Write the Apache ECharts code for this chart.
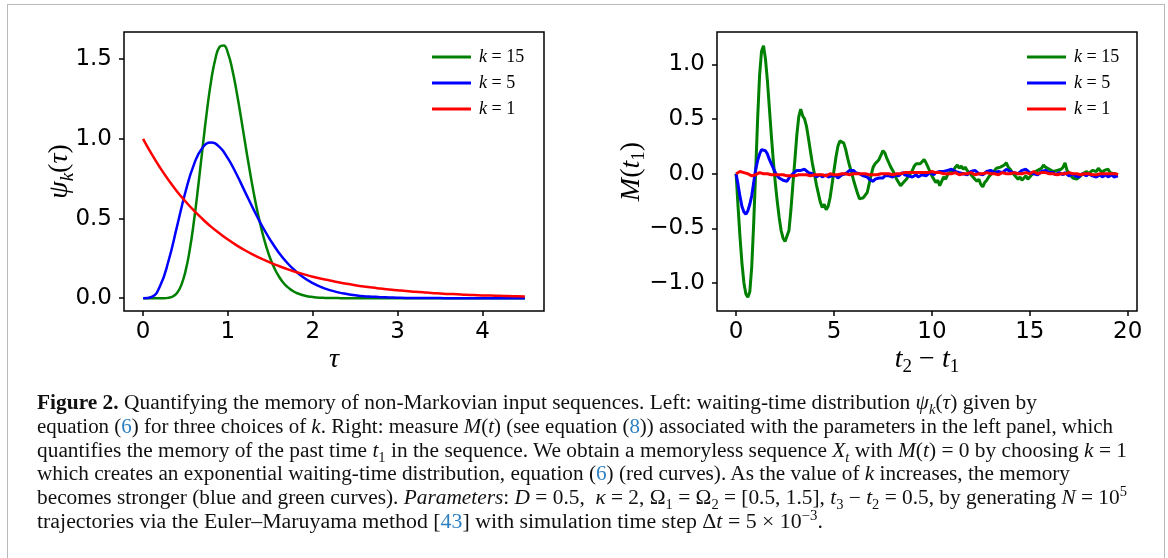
<!DOCTYPE html>
<html><head><meta charset="utf-8">
<script src="https://cdn.jsdelivr.net/npm/echarts@6/dist/echarts.min.js"></script>
<style>
html,body{margin:0;padding:0;background:#fff;}
#wrap{position:relative;width:1168px;height:558px;overflow:hidden;background:#fff;}
#chart{position:absolute;left:0;top:0;width:1168px;height:385px;}
#frame{position:absolute;left:7px;top:4px;width:1158px;height:620px;border:1px solid #b9b9b9;box-sizing:border-box;pointer-events:none;}
#caption{position:absolute;left:37px;top:391px;font-family:'Liberation Serif',serif;font-size:20px;line-height:23.8px;color:#111;}
#caption .ln{white-space:nowrap;transform-origin:0 50%;width:max-content;}
#caption sub,#caption sup{font-size:68%;line-height:0;}
#caption .ref{color:#2f80c0;}
</style></head>
<body>
<div id="wrap">
<div id="chart"></div>
<div id="frame"></div>
<div id="caption">
<div class="ln" data-end="1037"><b>Figure 2.</b> Quantifying the memory of non-Markovian input sequences. Left: waiting-time distribution <i>ψ<sub>k</sub></i>(<i>τ</i>) given by</div>
<div class="ln" data-end="1113">equation (<span class="ref">6</span>) for three choices of <i>k</i>. Right: measure <i>M</i>(<i>t</i>) (see equation (<span class="ref">8</span>)) associated with the parameters in the left panel, which</div>
<div class="ln" data-end="1127">quantifies the memory of the past time <i>t</i><sub>1</sub> in the sequence. We obtain a memoryless sequence <i>X<sub>t</sub></i> with <i>M</i>(<i>t</i>) = 0 by choosing <i>k</i> = 1</div>
<div class="ln" data-end="1070">which creates an exponential waiting-time distribution, equation (<span class="ref">6</span>) (red curves). As the value of <i>k</i> increases, the memory</div>
<div class="ln" data-end="1127">becomes stronger (blue and green curves). <i>Parameters</i>: <i>D</i> = 0.5, &nbsp;<i>κ</i> = 2, Ω<sub>1</sub> = Ω<sub>2</sub> = [0.5, 1.5], <i>t</i><sub>3</sub> − <i>t</i><sub>2</sub> = 0.5, by generating <i>N</i> = 10<sup>5</sup></div>
<div class="ln" data-end="823">trajectories via the Euler–Maruyama method [<span class="ref">43</span>] with simulation time step Δ<i>t</i> = 5 × 10<sup>−3</sup>.</div>
</div>
</div>
<script>
// ---------- data ----------
const seriesNames = ['k=15', 'k=5', 'k=1'];
const seriesColors = ['#008000', '#0000ff', '#ff0000'];

// left panel: waiting-time distribution psi_k(tau), tau from 0 to 4.5
const tauTicks = [0, 1, 2, 3, 4];
const psiTicks = [0, 0.5, 1.0, 1.5];
const psi15Step = 0.05;   // k = 15 read every 0.05
const psi15 = [0, 0, 0, 0, 0.000, 0.000, 0.003, 0.011, 0.033, 0.082,
  0.170, 0.304, 0.486, 0.704, 0.938, 1.164, 1.357, 1.498, 1.576, 1.586,
  1.537, 1.437, 1.302, 1.146, 0.982, 0.822, 0.672, 0.538, 0.423, 0.327,
  0.248, 0.186, 0.137, 0.099, 0.071, 0.051, 0.035, 0.025, 0.017, 0.011,
  0.008, 0.005, 0.003, 0.002, 0.002, 0.001, 0.001, 0.000, 0.000, 0,
  0, 0, 0, 0, 0, 0, 0, 0, 0, 0,
  0, 0, 0, 0, 0, 0, 0, 0, 0, 0,
  0, 0, 0, 0, 0, 0, 0, 0, 0, 0,
  0, 0, 0, 0, 0, 0, 0, 0, 0, 0,
  0];
const psiStep = 0.1;      // k = 5 and k = 1 read every 0.1
const psi5 = [0, 0.008, 0.077, 0.235, 0.451, 0.668, 0.840, 0.944, 0.977, 0.949,
  0.877, 0.779, 0.669, 0.559, 0.456, 0.365, 0.286, 0.221, 0.169, 0.127,
  0.095, 0.070, 0.051, 0.037, 0.027, 0.019, 0.013, 0.010, 0.007, 0.005,
  0.003, 0.002, 0.002, 0.001, 0.001, 0.001, 0, 0, 0, 0,
  0, 0, 0, 0, 0, 0];
const psi1 = [1.000, 0.905, 0.819, 0.741, 0.670, 0.607, 0.549, 0.497, 0.449, 0.407,
  0.368, 0.333, 0.301, 0.273, 0.247, 0.223, 0.202, 0.183, 0.165, 0.150,
  0.135, 0.122, 0.111, 0.100, 0.091, 0.082, 0.074, 0.067, 0.061, 0.055,
  0.050, 0.045, 0.041, 0.037, 0.033, 0.030, 0.027, 0.025, 0.022, 0.020,
  0.018, 0.017, 0.015, 0.014, 0.012, 0.011];

// right panel: memory measure M, sampled every 0.1 in t2 - t1 (0 .. 19.5)
const tStep = 0.1;
const tTicks = [0, 5, 10, 15, 20];
const mTicks = [-1.0, -0.5, 0, 0.5, 1.0];
const m15 = [
  0, -0.30, -0.58, -0.82, -1.00, -1.10, -1.13, -1.08, -0.85, -0.45,
  0.02, 0.50, 0.90, 1.12, 1.17, 1.05, 0.85, 0.60, 0.35, 0.12,
  -0.08, -0.25, -0.40, -0.52, -0.59, -0.62, -0.61, -0.52, -0.33, -0.10,
  0.12, 0.35, 0.52, 0.59, 0.53, 0.50, 0.43, 0.32, 0.20, 0.09,
  0.00, -0.10, -0.18, -0.26, -0.31, -0.28, -0.33, -0.30, -0.22, -0.10,
  0.03, 0.15, 0.25, 0.30, 0.31, 0.28, 0.22, 0.14, 0.07, 0.01,
  -0.06, -0.12, -0.18, -0.23, -0.24, -0.22, -0.23, -0.17, -0.09, -0.01,
  0.06, 0.09, 0.11, 0.13, 0.17, 0.21, 0.19, 0.14, 0.10, 0.06,
  0.03, -0.01, -0.05, -0.08, -0.11, -0.09, -0.07, -0.05, -0.02, 0.00,
  0.03, 0.07, 0.09, 0.10, 0.09, 0.11, 0.13, 0.10, 0.06, 0.02,
  -0.02, -0.05, -0.08, -0.06, -0.11, -0.07, -0.03, -0.05, -0.01, 0.01,
  0.00, 0.03, 0.06, 0.08, 0.05, 0.07, 0.04, 0.06, 0.03, 0.01,
  -0.01, -0.02, -0.05, -0.07, -0.05, -0.10, -0.12, -0.08, -0.06, -0.03,
  -0.01, 0.01, 0.03, 0.05, 0.04, 0.06, 0.05, 0.08, 0.10, 0.06,
  0.04, 0.01, -0.01, -0.03, -0.05, -0.03, -0.06, -0.04, -0.02, -0.05,
  -0.03, -0.01, 0.01, 0.00, 0.03, 0.02, 0.05, 0.08, 0.06, 0.07,
  0.04, 0.05, 0.02, 0.01, 0.03, 0.02, 0.04, 0.06, 0.10, 0.03,
  0.01, -0.02, -0.04, -0.03, -0.05, -0.04, -0.02, 0.00, 0.01, 0.02,
  0.00, 0.01, 0.03, 0.04, 0.02, 0.05, 0.03, 0.01, 0.03, 0.02,
  0.04, 0.01, 0.02, 0.00, 0.01, -0.01];
const m5 = [
  0, -0.10, -0.21, -0.30, -0.35, -0.37, -0.34, -0.28, -0.20, -0.08,
  0.04, 0.12, 0.18, 0.22, 0.23, 0.21, 0.18, 0.13, 0.09, 0.05,
  0.01, -0.02, -0.04, -0.05, -0.06, -0.05, -0.07, -0.04, -0.02, 0.00,
  0.01, 0.03, 0.02, 0.03, 0.02, 0.04, 0.03, 0.01, 0.02, 0.00,
  -0.01, -0.03, -0.02, -0.01, -0.03, -0.02, -0.01, -0.03, -0.04, -0.02,
  -0.03, -0.02, -0.04, -0.03, -0.01, -0.02, 0.00, 0.01, 0.03, 0.02,
  0.03, 0.01, 0.02, 0.00, -0.01, -0.02, -0.01, -0.03, -0.05, -0.06,
  -0.07, -0.05, -0.06, -0.04, -0.03, -0.04, -0.02, -0.03, -0.02, -0.01,
  -0.03, -0.01, 0.00, -0.02, -0.01, 0.01, -0.01, 0.00, -0.02, -0.01,
  -0.03, -0.02, -0.01, -0.03, -0.02, -0.01, 0.00, -0.02, -0.01, 0.01,
  0.00, -0.01, 0.01, 0.00, 0.02, 0.01, 0.02, 0.01, 0.03, 0.02,
  0.04, 0.03, 0.02, 0.03, 0.01, 0.02, 0.00, 0.01, -0.01, 0.00,
  0.02, 0.01, 0.03, 0.02, 0.00, 0.01, -0.01, 0.00, 0.02, 0.01,
  0.03, 0.02, 0.01, 0.00, 0.02, 0.03, 0.01, 0.02, 0.04, 0.03,
  0.02, 0.03, 0.01, 0.02, 0.00, 0.01, 0.03, 0.02, 0.04, 0.03,
  0.01, 0.02, 0.00, 0.01, -0.01, 0.00, 0.02, 0.01, 0.03, 0.02,
  0.01, 0.00, 0.01, -0.01, 0.00, 0.01, 0.00, -0.01, 0.01, 0.00,
  -0.02, -0.01, 0.00, -0.02, -0.01, -0.03, -0.02, 0.00, -0.01, -0.02,
  0.00, -0.01, -0.02, -0.01, -0.03, -0.02, -0.01, -0.03, -0.02, -0.01,
  -0.03, -0.02, -0.01, -0.03, -0.02, -0.02];
const m1 = [
  0.00, 0.01, 0.02, 0.02, 0.01, 0.01, 0.00, -0.01, -0.02, -0.01,
  -0.01, 0.00, 0.01, 0.01, 0.00, 0.01, 0.00, -0.01, -0.01, -0.02,
  -0.01, -0.02, -0.01, -0.02, -0.01, -0.02, -0.02, -0.01, -0.02, -0.01,
  -0.02, -0.01, -0.01, -0.02, -0.01, -0.02, -0.01, -0.01, -0.02, -0.01,
  -0.01, -0.02, -0.01, 0.00, -0.01, -0.01, -0.02, -0.01, 0.00, -0.01,
  -0.01, 0.00, -0.01, -0.01, 0.00, -0.01, 0.00, 0.00, -0.01, 0.00,
  0.00, -0.01, 0.00, 0.01, 0.00, -0.01, 0.00, 0.00, -0.01, 0.00,
  -0.01, 0.00, -0.01, 0.00, 0.00, -0.01, 0.00, 0.01, 0.00, 0.00,
  -0.01, 0.00, 0.00, 0.01, 0.00, 0.00, 0.01, 0.00, 0.01, 0.00,
  0.01, 0.00, 0.01, 0.02, 0.01, 0.02, 0.01, 0.02, 0.01, 0.01,
  0.02, 0.01, 0.01, 0.00, 0.01, 0.01, 0.00, 0.01, 0.00, 0.01,
  0.00, 0.00, 0.01, 0.00, -0.01, 0.00, 0.00, 0.01, 0.00, 0.00,
  0.01, 0.00, -0.01, 0.00, 0.00, 0.01, 0.00, 0.00, 0.01, 0.00,
  0.00, 0.01, 0.00, 0.00, -0.01, 0.00, 0.01, 0.00, 0.00, 0.01,
  0.00, 0.00, 0.01, 0.00, 0.00, -0.01, 0.00, 0.00, 0.01, 0.00,
  0.00, 0.01, 0.02, 0.01, 0.00, 0.01, 0.01, 0.00, 0.01, 0.00,
  0.00, 0.01, 0.00, 0.00, -0.01, 0.00, 0.00, 0.01, 0.00, 0.00,
  0.01, 0.00, 0.00, -0.01, 0.00, 0.00, -0.01, 0.00, 0.00, -0.01,
  0.00, 0.00, -0.01, 0.00, -0.01, 0.00, 0.00, -0.01, 0.00, -0.01,
  0.00, -0.01, 0.00, -0.01, 0.00, -0.01];

// ---------- helpers ----------
function pairs(step, ys) { return ys.map((y, i) => [Math.round(i * step * 1000) / 1000, y]); }
function num(v, d) { return (v < 0 ? '\u2212' : '') + Math.abs(v).toFixed(d); }

const tickFont = { fontFamily: 'DejaVu Sans', fontSize: 23, color: '#000' };
const mathRich = {
  i: { fontFamily: 'Liberation Serif', fontStyle: 'italic', fontSize: 28, color: '#000', lineHeight: 34 },
  p: { fontFamily: 'Liberation Serif', fontSize: 28, color: '#000', lineHeight: 34 },
  si: { fontFamily: 'Liberation Serif', fontStyle: 'italic', fontSize: 19, color: '#000', lineHeight: 19, verticalAlign: 'bottom' },
  s: { fontFamily: 'Liberation Serif', fontSize: 19, color: '#000', lineHeight: 19, verticalAlign: 'bottom' }
};
const tickLine = { color: '#000', width: 1.5 };

function xAxis(grid, min, max, ticks, name, gap) {
  return {
    type: 'value', gridIndex: grid, min: min, max: max, position: 'bottom',
    axisLine: { show: false, onZero: false }, splitLine: { show: false },
    axisTick: { show: true, inside: false, customValues: ticks, length: 5, lineStyle: tickLine },
    axisLabel: Object.assign({ customValues: ticks, formatter: v => num(v, 0), margin: 10 }, tickFont),
    name: name, nameLocation: 'middle', nameGap: gap, nameMoveOverlap: false,
    nameTextStyle: { rich: mathRich }
  };
}
function yAxis(grid, min, max, ticks, name, gap) {
  return {
    type: 'value', gridIndex: grid, min: min, max: max, position: 'left',
    axisLine: { show: false, onZero: false }, splitLine: { show: false },
    axisTick: { show: true, inside: false, customValues: ticks, length: 5, lineStyle: tickLine },
    axisLabel: Object.assign({ customValues: ticks, formatter: v => num(v, 1), margin: 12 }, tickFont),
    name: name, nameLocation: 'middle', nameGap: gap, nameRotate: 90, nameMoveOverlap: false,
    nameTextStyle: { rich: mathRich }
  };
}
function legend(left) {
  return {
    show: true, orient: 'vertical', left: left, top: 43, icon: 'rect',
    itemWidth: 39, itemHeight: 3, itemGap: 8, selectedMode: false,
    data: seriesNames,
    formatter: n => '{i|k}{n| = ' + n.split('=')[1] + '}',
    textStyle: {
      padding: [0, 0, 0, 3],
      rich: {
        i: { fontFamily: 'Liberation Serif', fontStyle: 'italic', fontSize: 18, color: '#000' },
        n: { fontFamily: 'Liberation Serif', fontSize: 18, color: '#000' }
      }
    }
  };
}
function line(axis, k, data, width, smooth) {
  return {
    type: 'line', name: seriesNames[k], xAxisIndex: axis, yAxisIndex: axis,
    data: data, showSymbol: false, smooth: smooth, animation: false,
    color: seriesColors[k], itemStyle: { color: seriesColors[k] },
    lineStyle: { width: width, color: seriesColors[k] }, z: 2 + k
  };
}

const chart = echarts.init(document.getElementById('chart'), null, { renderer: 'canvas' });
chart.setOption({
  backgroundColor: 'transparent',
  animation: false,
  grid: [
    { left: 124, top: 32, width: 420, height: 279, show: true, borderColor: '#000', borderWidth: 1.5, backgroundColor: 'transparent', outerBoundsMode: 'none', containLabel: false },
    { left: 717, top: 32, width: 420, height: 279, show: true, borderColor: '#000', borderWidth: 1.5, backgroundColor: 'transparent', outerBoundsMode: 'none', containLabel: false }
  ],
  xAxis: [
    xAxis(0, -0.225, 4.725, tauTicks, '{i|τ}', 32),
    xAxis(1, -0.975, 20.475, tTicks, '{i|t}{s|2}{p| − }{i|t}{s|1}', 32)
  ],
  yAxis: [
    yAxis(0, -0.08, 1.67, psiTicks, '{i|ψ}{si|k}{p|(}{i|τ}{p|)}', 47),
    yAxis(1, -1.256, 1.296, mTicks, '{i|M}{p|(}{i|t}{s|1}{p|)}', 68)
  ],
  legend: [legend(427), legend(1022)],
  series: [
    line(0, 0, pairs(psi15Step, psi15), 2.5, true),
    line(0, 1, pairs(psiStep, psi5), 2.5, true),
    line(0, 2, pairs(psiStep, psi1), 2.5, true),
    line(1, 0, pairs(tStep, m15), 3, false),
    line(1, 1, pairs(tStep, m5), 3, false),
    line(1, 2, pairs(tStep, m1), 3, false)
  ]
});

// fit each caption line to its measured end position
document.querySelectorAll('#caption .ln').forEach(el => {
  const target = +el.dataset.end - 37;
  const w = el.getBoundingClientRect().width;
  if (w > 0) el.style.transform = 'scaleX(' + (target / w).toFixed(4) + ')';
});
</script>
</body></html>
